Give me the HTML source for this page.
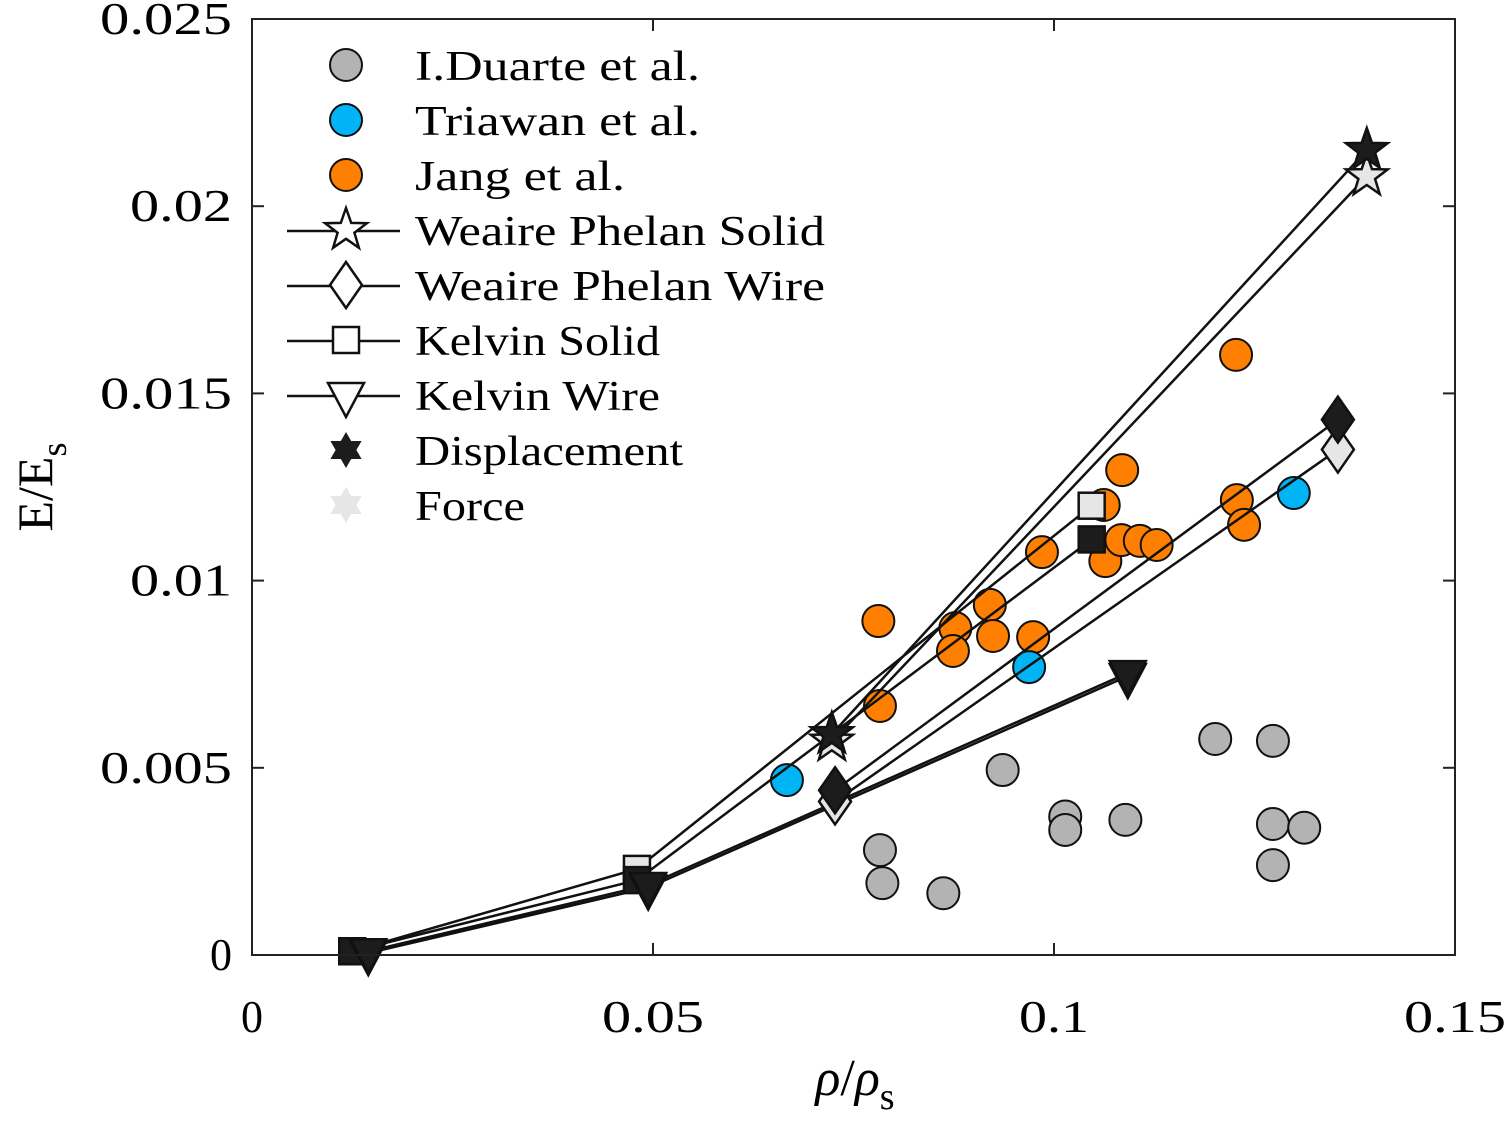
<!DOCTYPE html>
<html><head><meta charset="utf-8"><style>
html,body{margin:0;padding:0;background:#fff}
svg{display:block;font-family:"Liberation Serif",serif}
</style></head><body>
<svg id="chart" width="1508" height="1138" viewBox="0 0 1508 1138" xmlns="http://www.w3.org/2000/svg">
<rect x="252" y="19" width="1203" height="936" fill="#fff"/>
<g id="scatter"></g>
<g id="lines"></g>
<g id="marks"></g>
<rect x="252" y="19" width="1203" height="936" fill="none" stroke="#222" stroke-width="2"/>
<g id="ticks"></g>
<text transform="translate(52,487) rotate(-90)" text-anchor="middle" font-size="50">E/E<tspan font-size="36" dy="14">s</tspan></text>
<text x="855" y="1095" text-anchor="middle" font-size="52"><tspan font-style="italic">ρ</tspan>/<tspan font-style="italic">ρ</tspan><tspan font-size="38" dy="14">s</tspan></text>
<g id="legend"></g>
</svg>
<script>
const xTicks=[0,0.05,0.1,0.15];
const xTickLabels=["0","0.05","0.1","0.15"];
const yTicks=[0,0.005,0.01,0.015,0.02,0.025];
const yTickLabels=["0","0.005","0.01","0.015","0.02","0.025"];
const duarteX=[0.0783,0.0786,0.0862,0.0936,0.1014,0.1014,0.1089,0.1201,0.1273,0.1273,0.1273,0.1312];
const duarteY=[0.0028,0.00192,0.00165,0.00494,0.0037,0.00334,0.00361,0.00577,0.00572,0.0035,0.0024,0.0034];
const triawanX=[0.0667,0.0969,0.1299];
const triawanY=[0.00467,0.00769,0.01234];
const jangX=[0.0781,0.0783,0.0877,0.0874,0.0920,0.0924,0.0985,0.0974,0.1062,0.1085,0.1064,0.1084,0.1107,0.1128,0.1227,0.1228,0.1237];
const jangY=[0.00892,0.00665,0.00873,0.00812,0.00935,0.00852,0.01076,0.00849,0.01202,0.01295,0.01052,0.01108,0.01106,0.01095,0.01603,0.01215,0.01149];
const wpSolidX=[0.0723,0.1390];
const wpSolidDisp=[0.0059,0.0215];
const wpSolidForce=[0.0057,0.0208];
const wpWireX=[0.0727,0.1354];
const wpWireDisp=[0.0044,0.0143];
const wpWireForce=[0.0041,0.0135];
const kSolidX=[0.0125,0.0480,0.1047];
const kSolidDisp=[0.0001,0.0020,0.0111];
const kSolidForce=[0.0001,0.0023,0.0120];
const kWireX=[0.0145,0.0494,0.1092];
const kWireDisp=[0.0001,0.00187,0.00753];
const kWireForce=[0.00005,0.00180,0.00745];

const NS="http://www.w3.org/2000/svg";
const X0=252,X1=1455,Y0=955,Y1=19;
const sx=v=>X0+(v-0)/(0.15-0)*(X1-X0);
const sy=v=>Y0-(v-0)/(0.025-0)*(Y0-Y1);
function mk(tag,parent,attrs){const e=document.createElementNS(NS,tag);for(const k in attrs)e.setAttribute(k,attrs[k]);document.getElementById(parent).appendChild(e);return e;}
const DARK="#1c1c1c",LIGHT="#e6e6e6";
const lw=s=>s.length<=1?22:(s.length===3?70:(s.length===4?102:132));

xTicks.forEach((t,i)=>{
  const x=sx(t);
  let l=mk('line','ticks',{x1:x,x2:x,y1:Y0,y2:Y0-12,stroke:'#222','stroke-width':2});
  
  l=mk('line','ticks',{x1:x,x2:x,y1:Y1,y2:Y1+12,stroke:'#222','stroke-width':2});
  
  const s=xTickLabels[i];
  const tx=mk('text','ticks',{x:x-lw(s)/2,y:1032,'font-size':46,textLength:lw(s),lengthAdjust:'spacingAndGlyphs'});
  tx.textContent=s;
  
});
yTicks.forEach((t,i)=>{
  const y=sy(t);
  let l=mk('line','ticks',{x1:X0,x2:X0+12,y1:y,y2:y,stroke:'#222','stroke-width':2});
  
  l=mk('line','ticks',{x1:X1,x2:X1-12,y1:y,y2:y,stroke:'#222','stroke-width':2});
  
  const s=yTickLabels[i];
  const tx=mk('text','ticks',{x:232-lw(s),y:y+15,'font-size':46,textLength:lw(s),lengthAdjust:'spacingAndGlyphs'});
  tx.textContent=s;
  
});

function starPts(cx,cy,r,n,inner){let p=[];for(let i=0;i<2*n;i++){const a=-Math.PI/2+i*Math.PI/n;const rr=i%2?r*inner:r;p.push((cx+rr*Math.cos(a)).toFixed(1)+','+(cy+rr*Math.sin(a)).toFixed(1));}return p.join(' ');}
function marker(g,shape,cx,cy,fill,name){
  let e;
  const st={fill:fill,stroke:'#111','stroke-width':2.5};
  if(shape==='circle')e=mk('circle',g,Object.assign({cx:cx,cy:cy,r:16},st,{'stroke-width':2}));
  else if(shape==='star')e=mk('polygon',g,Object.assign({points:starPts(cx,cy,22,5,0.4)},st));
  else if(shape==='diamond')e=mk('polygon',g,Object.assign({points:`${cx},${cy-23} ${cx+16},${cy} ${cx},${cy+23} ${cx-16},${cy}`},st));
  else if(shape==='square')e=mk('rect',g,Object.assign({x:cx-13,y:cy-13,width:26,height:26},st));
  else if(shape==='tri')e=mk('polygon',g,Object.assign({points:`${cx-18},${cy-12} ${cx+18},${cy-12} ${cx},${cy+22}`},st));
  else if(shape==='hex')e=mk('polygon',g,{points:starPts(cx,cy,18,6,0.58),fill:fill,stroke:'none'});
  
  
  return e;
}
function series(xs,ys,shape,fill,name){
  const pts=xs.map((x,i)=>sx(x)+','+sy(ys[i])).join(' ');
  const pl=mk('polyline','lines',{points:pts,fill:'none',stroke:'#111','stroke-width':2.5});
  
  
  xs.forEach((x,i)=>marker('marks',shape,sx(x),sy(ys[i]),fill,name+'-marker'));
}
duarteX.forEach((x,i)=>marker('scatter','circle',sx(x),sy(duarteY[i]),'#b3b3b3','duarte-point'));
jangX.forEach((x,i)=>marker('scatter','circle',sx(x),sy(jangY[i]),'#ff8000','jang-point'));
triawanX.forEach((x,i)=>marker('scatter','circle',sx(x),sy(triawanY[i]),'#00b4f5','triawan-point'));
series(kSolidX,kSolidForce,'square',LIGHT,'kelvin-solid-force');
series(kSolidX,kSolidDisp,'square',DARK,'kelvin-solid-displacement');
series(kWireX,kWireForce,'tri',LIGHT,'kelvin-wire-force');
series(kWireX,kWireDisp,'tri',DARK,'kelvin-wire-displacement');
series(wpWireX,wpWireForce,'diamond',LIGHT,'wp-wire-force');
series(wpWireX,wpWireDisp,'diamond',DARK,'wp-wire-displacement');
series(wpSolidX,wpSolidForce,'star',LIGHT,'wp-solid-force');
series(wpSolidX,wpSolidDisp,'star',DARK,'wp-solid-displacement');

const legItems=[["circle","#b3b3b3","I.Duarte et al.",false,285],["circle","#00b4f5","Triawan et al.",false,285],["circle","#ff8000","Jang et al.",false,210],["star","#fff","Weaire Phelan Solid",true,410],["diamond","#fff","Weaire Phelan Wire",true,410],["square","#fff","Kelvin Solid",true,245],["tri","#fff","Kelvin Wire",true,245],["hex",DARK,"Displacement",false,268],["hex",LIGHT,"Force",false,110]];
legItems.forEach((it,i)=>{
  const y=65+i*55;
  if(it[3]){const l=mk('line','legend',{x1:287,x2:400,y1:y+1,y2:y+1,stroke:'#111','stroke-width':2.5});}
  marker('legend',it[0],346,y,it[1],'legend-symbol');
  const t=mk('text','legend',{x:415,y:y+15,'font-size':42,textLength:it[4],lengthAdjust:'spacingAndGlyphs'});
  t.textContent=it[2];
  
  
});
</script>
</body></html>
